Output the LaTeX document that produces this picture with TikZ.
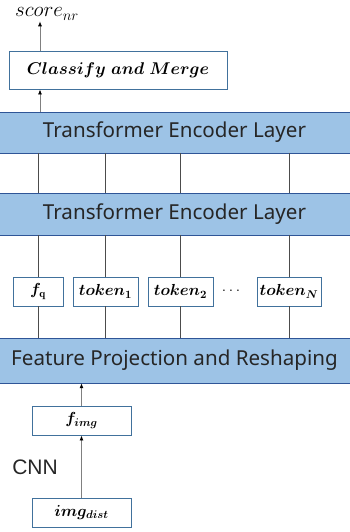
\RequirePackage{fix-cm}
\documentclass[tikz,border=0pt]{standalone}
\usepackage{amsmath,bm}
\usepackage{fontspec}
\usetikzlibrary{positioning,arrows.meta}
\newfontfamily\layerfont{Noto Sans}
\newfontfamily\cnnfont{Liberation Sans}
\definecolor{layerblue}{HTML}{9DC3E6}
\definecolor{edgeblue}{HTML}{2F5597}
\definecolor{boxblue}{HTML}{41719C}
\begin{document}
\begin{tikzpicture}[x=1pt,y=-1pt,
    layer/.style={draw=edgeblue, fill=layerblue, minimum width=352pt, inner sep=0pt, font=\layerfont\fontsize{20.6}{24}\selectfont, text=black!85},
    tokbox/.style={draw=boxblue, fill=white, line width=0.9pt, minimum height=29pt, inner sep=0pt, font=\fontsize{16}{19}\selectfont},
    link/.style={draw=black!70, line width=0.6pt},
    up/.style={draw=black!50, line width=0.8pt, -{Latex[length=5pt,width=4pt,color=black]}}
]
\useasboundingbox (0,0) rectangle (349,532);

% Schichten
\node[layer, minimum height=41pt] (tel1) at (174.5,132.5) {Transformer Encoder Layer};
\node[layer, minimum height=42pt] (tel2) at (174.5,214) {Transformer Encoder Layer};
\node[layer, minimum height=45pt] (fpr) at (174.5,360.5) {Feature Projection and Reshaping};

% Ausgabe
\node[tokbox, minimum width=218pt, minimum height=38pt, font=\fontsize{17}{20}\selectfont] (cm) at (118,70) {$\bm{Classify\ and\ Merge}$};
\node[inner sep=1pt, font=\fontsize{21}{24}\selectfont] (score) at (47,14) {$score_{nr}$};

% Token
\node[tokbox, minimum width=50pt] (fq) at (38,291.5) {$\bm{f}_{\mathbf{q}}$};
\node[tokbox, minimum width=65pt] (tok1) at (105.5,291.5) {$\bm{token_{1}}$};
\node[tokbox, minimum width=65pt] (tok2) at (180.5,291.5) {$\bm{token_{2}}$};
\node[font=\fontsize{16}{19}\selectfont] (dots) at (231,291) {$\ldots$};
\node[tokbox, minimum width=64pt] (tokN) at (289,291.5) {$\bm{token_{N}}$};

% Eingabe
\node[tokbox, minimum width=99pt] (fimg) at (81.5,420.5) {$\bm{f_{img}}$};
\node[tokbox, minimum width=99pt] (imgdist) at (81.5,512.5) {$\bm{img_{dist}}$};
\node[font=\cnnfont\fontsize{21}{24}\selectfont, text=black!85] (cnn) at (35,467) {CNN};

\coordinate (ax) at (40,0);
\draw[up] (cm.north -| ax) -- (score.south -| ax);
\draw[up] (tel1.north -| ax) -- (cm.south -| ax);
\draw[up] (fimg.north) -- (fimg.north |- fpr.south);
\draw[up] (imgdist.north) -- (fimg.south);

\foreach \t in {fq,tok1,tok2,tokN} {
  \draw[link] (fpr.north -| \t) -- (\t.south);
  \draw[link] (\t.north) -- (tel2.south -| \t);
  \draw[link] (tel2.north -| \t) -- (tel1.south -| \t);
}
\end{tikzpicture}
\end{document}
